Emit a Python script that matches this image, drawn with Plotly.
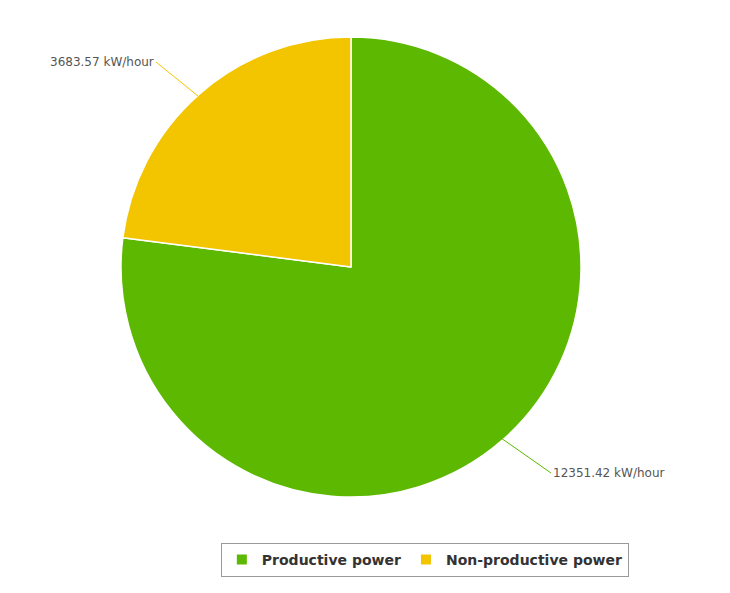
import plotly.graph_objects as go

labels = ["Productive power", "Non-productive power"]
values = [12351.42, 3683.57]
colors = ["#5cb800", "#f2c500"]

W, H = 730, 593
fig = go.Figure(
    go.Pie(
        labels=labels,
        values=values,
        marker=dict(colors=colors, line=dict(color="white", width=1.5)),
        sort=False,
        direction="clockwise",
        rotation=0,
        textinfo="none",
        hoverinfo="label+value",
        domain=dict(x=[113 / W, 573 / W], y=[1 - 489 / H, 1 - 29 / H]),
    )
)

# value labels with leader lines
fig.add_annotation(
    x=493 / W, y=1 - 430 / H, xref="paper", yref="paper",
    ax=50, ay=35, axref="pixel", ayref="pixel",
    text=f"{values[0]:.2f} kW/hour", xanchor="left", yanchor="middle",
    showarrow=True, arrowhead=0, arrowwidth=1, arrowcolor=colors[0],
    font=dict(family="DejaVu Sans", size=12, color="#555555"),
)
fig.add_annotation(
    x=190 / W, y=1 - 88 / H, xref="paper", yref="paper",
    ax=-42, ay=-34, axref="pixel", ayref="pixel",
    text=f"{values[1]:.2f} kW/hour", xanchor="right", yanchor="middle",
    showarrow=True, arrowhead=0, arrowwidth=1, arrowcolor=colors[1],
    font=dict(family="DejaVu Sans", size=12, color="#555555"),
)

fig.update_layout(
    width=W, height=H,
    margin=dict(l=0, r=0, t=0, b=0),
    paper_bgcolor="white",
    showlegend=True,
    legend=dict(
        orientation="h", x=0.571, y=1 - 552 / H, xanchor="center", yanchor="middle",
        bordercolor="#999999", borderwidth=1,
        font=dict(family="DejaVu Sans", size=14, color="#333333", weight="bold"),
        itemsizing="constant",
    ),
)
fig.write_html("out.html")
